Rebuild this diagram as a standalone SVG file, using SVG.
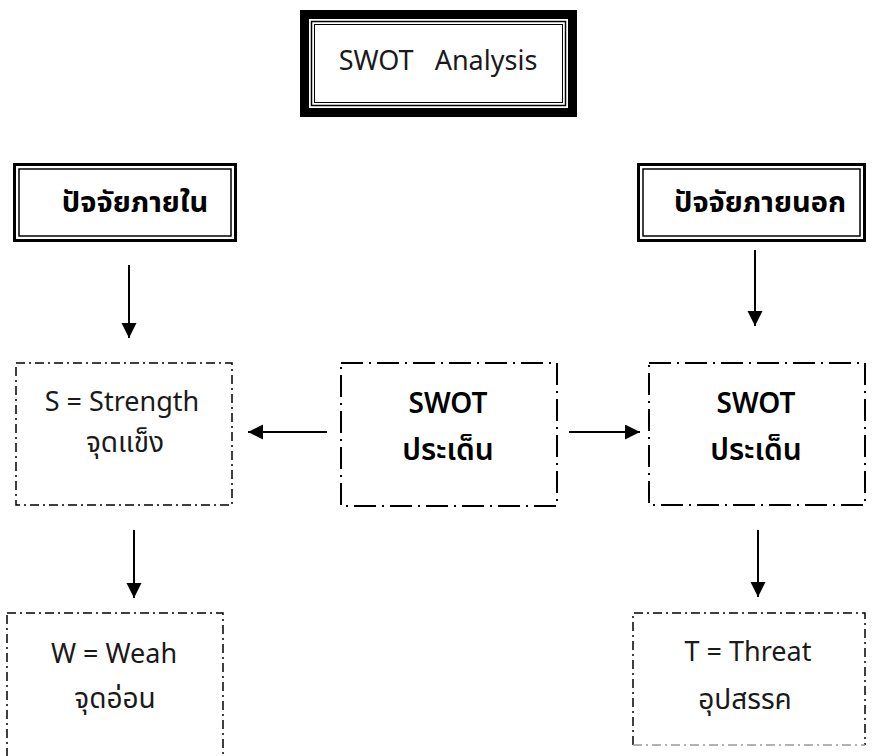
<svg xmlns="http://www.w3.org/2000/svg" width="872" height="756" viewBox="0 0 872 756">
<defs>
<style>
text{font-family:"Noto Sans","Noto Sans Thai","Leelawadee UI","Tahoma",sans-serif;fill:#1a1a1a;text-anchor:middle}
.lt{font-size:27px}
.th{font-size:28px}
.bd{font-size:29px;font-weight:bold;fill:#000}
.sw{font-size:28px;font-weight:600;fill:#000}
.sp{font-size:30px;font-weight:600;fill:#000}
.dd{fill:none;stroke:#000;stroke-width:1.5;stroke-dasharray:9 4 2 4}
.dl{fill:none;stroke:#000;stroke-width:2;stroke-dasharray:22 6 2 6}
.ln{stroke:#000;stroke-width:2;fill:none}
</style>
<marker id="ah" markerUnits="userSpaceOnUse" markerWidth="16" markerHeight="16" refX="15" refY="7.5" orient="auto">
<path d="M0,0 L15,7.5 L0,15 Z" fill="#000"/>
</marker>
</defs>
<rect width="872" height="756" fill="#fff"/>

<g id="title">
<rect x="304.5" y="14.5" width="268" height="98" fill="none" stroke="#000" stroke-width="9"/>
<rect x="311.5" y="21.5" width="254" height="84" fill="none" stroke="#000" stroke-width="1.5"/>
<rect x="314.5" y="24.5" width="248" height="78" fill="none" stroke="#000" stroke-width="1"/>
<text x="438" y="70" style="font-size:27px" xml:space="preserve">SWOT   Analysis</text>
</g>

<g id="internal">
<rect x="14.5" y="164.5" width="221" height="76" fill="none" stroke="#000" stroke-width="3"/>
<rect x="19" y="169" width="212" height="67" fill="none" stroke="#000" stroke-width="1.5"/>
<text x="135" y="212" class="bd">ปัจจัยภายใน</text>
</g>

<g id="external">
<rect x="638.5" y="164.5" width="226" height="76" fill="none" stroke="#000" stroke-width="3"/>
<rect x="643" y="169" width="217" height="67" fill="none" stroke="#000" stroke-width="1.5"/>
<text x="760" y="212" class="bd">ปัจจัยภายนอก</text>
</g>

<g id="strength">
<rect x="16" y="363" width="216" height="142" class="dd"/>
<text x="122" y="411" class="lt">S = Strength</text>
<text x="125" y="452" class="th">จุดแข็ง</text>
</g>

<g id="swot-center">
<rect x="341" y="363" width="216" height="143" class="dl"/>
<text x="448" y="413" class="sw">SWOT</text>
<text x="448" y="460" class="sp">ประเด็น</text>
</g>

<g id="swot-right">
<rect x="649" y="363" width="216" height="142" class="dl"/>
<text x="756" y="413" class="sw">SWOT</text>
<text x="756" y="460" class="sp">ประเด็น</text>
</g>

<g id="weakness">
<rect x="7" y="613" width="216" height="160" class="dd"/>
<text x="114" y="663" class="lt">W = Weah</text>
<text x="115" y="708" class="th">จุดอ่อน</text>
</g>

<g id="threat">
<path d="M633,745 L633,613 L865,613 L865,745" class="dd"/>
<path d="M633,745 L865,745" fill="none" stroke="#999" stroke-width="1.5" stroke-dasharray="9 4 2 4"/>
<text x="748" y="661" class="lt">T = Threat</text>
<text x="745" y="709" class="th">อุปสรรค</text>
</g>

<g id="connectors">
<line x1="129" y1="265" x2="129" y2="338" class="ln" marker-end="url(#ah)"/>
<line x1="755" y1="250" x2="755" y2="326" class="ln" marker-end="url(#ah)"/>
<line x1="327" y1="432" x2="248" y2="432" class="ln" marker-end="url(#ah)"/>
<line x1="569" y1="432" x2="640" y2="432" class="ln" marker-end="url(#ah)"/>
<line x1="134" y1="530" x2="134" y2="598" class="ln" marker-end="url(#ah)"/>
<line x1="758" y1="530" x2="758" y2="597" class="ln" marker-end="url(#ah)"/>
</g>
</svg>
